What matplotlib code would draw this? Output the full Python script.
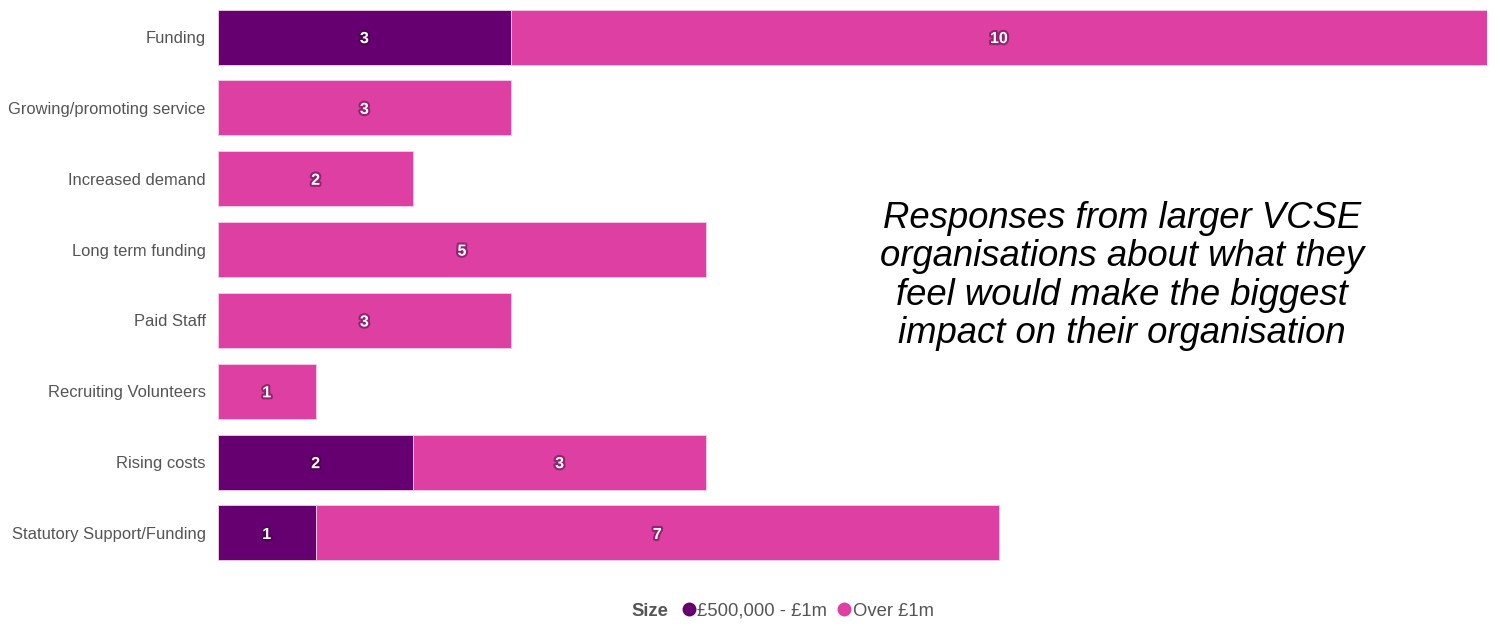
import matplotlib
matplotlib.use("Agg")
import matplotlib.pyplot as plt
import matplotlib.patheffects as pe
from matplotlib.lines import Line2D

# issues raised by larger organisations, split by income band
categories = ["Funding", "Growing/promoting service", "Increased demand",
              "Long term funding", "Paid Staff", "Recruiting Volunteers",
              "Rising costs", "Statutory Support/Funding"]
mid_band = [3, 0, 0, 0, 0, 0, 2, 1]       # £500,000 - £1m
over_1m = [10, 3, 2, 5, 3, 1, 3, 7]       # Over £1m
series_names = ["£500,000 - £1m", "Over £1m"]

dark = "#660070"
pink = "#DD3FA3"

plt.rcParams['font.family'] = ['Liberation Sans', 'DejaVu Sans']

fig = plt.figure(figsize=(14.96, 6.24), dpi=100)
ax = fig.add_axes([218 / 1496, 0.0891, (1487 - 218) / 1496, 0.9083])

y = range(len(categories))
ax.barh(y, mid_band, height=0.776, color=dark, edgecolor="#f4d0ea", linewidth=0.6)
ax.barh(y, over_1m, left=mid_band, height=0.776, color=pink, edgecolor="#f4d0ea", linewidth=0.6)

# value labels in the middle of each segment, soft dark halo
halo = [pe.withStroke(linewidth=3, foreground="#3a0030", alpha=0.45)]
for i in y:
    if mid_band[i] > 0:
        ax.text(mid_band[i] / 2, i, str(mid_band[i]), ha="center", va="center_baseline",
                color="white", fontsize=11.5, fontweight="bold", path_effects=halo)
    if over_1m[i] > 0:
        ax.text(mid_band[i] + over_1m[i] / 2, i, str(over_1m[i]), ha="center", va="center_baseline",
                color="white", fontsize=11.5, fontweight="bold", path_effects=halo)

ax.set_xlim(0, 13)
ax.set_ylim(len(categories) - 0.5, -0.5)
ax.set_yticks(list(y))
ax.set_yticklabels(categories, fontsize=11.9, color="#555555")
ax.set_xticks([])
ax.tick_params(axis="y", length=0, pad=9)
for s in ax.spines.values():
    s.set_visible(False)

fig.text(1122 / 1496, 1 - 276 / 624,
         "Responses from larger VCSE\norganisations about what they\nfeel would make the biggest\nimpact on their organisation",
         ha="center", va="center", fontsize=26.3, style="italic", linespacing=1.12)

# legend row along the bottom
fig.text(650 / 1496, 1 - 611 / 624, "Size", ha="center", va="center",
         fontsize=13.3, fontweight="bold", color="#555555")
handles = [Line2D([], [], marker="o", linestyle="", markersize=9, color=c) for c in (dark, pink)]
fig.legend(handles, series_names, loc="center", bbox_to_anchor=(807 / 1496, 1 - 611 / 624),
           ncol=2, frameon=False, fontsize=13.3, labelcolor="#555555",
           handletextpad=0.0, columnspacing=0.5, handlelength=0.9)

fig.savefig("out.png", dpi=100)
